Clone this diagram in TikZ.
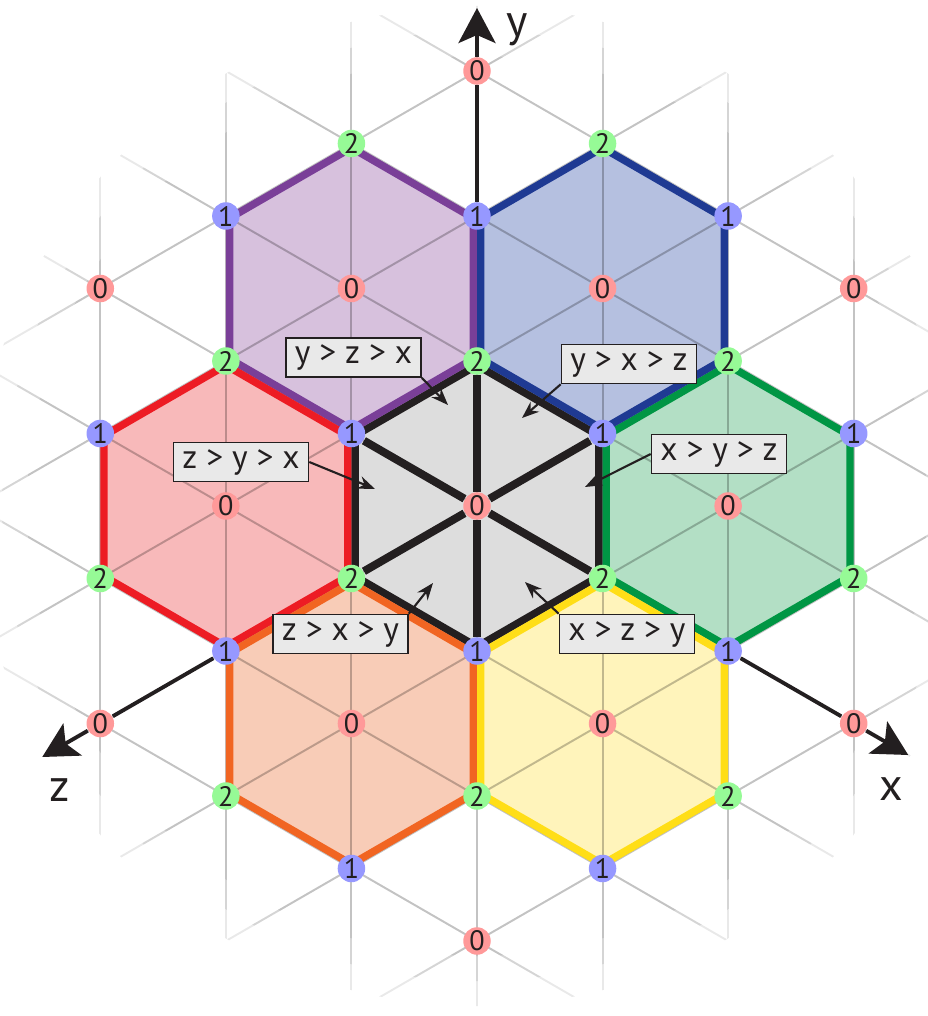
\documentclass[tikz,border=0pt]{standalone}
\usepackage{fontspec}
\setmainfont{PT Sans}
\usetikzlibrary{arrows.meta}

\definecolor{inkcol}{RGB}{35,31,32}
\definecolor{lab0}{RGB}{255,153,153}
\definecolor{lab1}{RGB}{150,152,255}
\definecolor{lab2}{RGB}{150,250,150}
\definecolor{hgray}{RGB}{221,221,221}
\definecolor{hgrayline}{RGB}{35,31,32}
\definecolor{hgreen}{RGB}{179,223,197}
\definecolor{hgreenline}{RGB}{0,150,68}
\definecolor{hblue}{RGB}{181,192,224}
\definecolor{hblueline}{RGB}{31,58,147}
\definecolor{hpurple}{RGB}{215,193,221}
\definecolor{hpurpleline}{RGB}{122,63,152}
\definecolor{hred}{RGB}{248,185,186}
\definecolor{hredline}{RGB}{237,28,36}
\definecolor{horange}{RGB}{248,204,183}
\definecolor{horangeline}{RGB}{241,101,34}
\definecolor{hyellow}{RGB}{255,244,187}
\definecolor{hyellowline}{RGB}{255,222,23}
\definecolor{boxfill}{RGB}{233,233,233}

\def\R{1.45}
\def\Ri{1.407}
\def\h{1.2557}
\def\D{2.5114}

\tikzset{
  lattice/.style={line width=0.55pt, black, opacity=0.085},
  pt/.style={circle, minimum size=2.75mm, inner sep=0pt, text=inkcol, font=\fontsize{8}{8}\selectfont},
  ordbox/.style={draw=inkcol, fill=boxfill, line width=0.45pt, minimum width=13.5mm, minimum height=3.9mm, inner sep=1pt, text=inkcol, font=\fontsize{9.5}{10}\selectfont},
  ptr/.style={-{Stealth[length=1.7mm,width=1.3mm]}, line width=0.6pt, inkcol},
  axis/.style={line width=1.1pt, inkcol},
  axlab/.style={text=inkcol, font=\fontsize{13}{15}\selectfont},
  spoke/.style={line width=0.08cm, inkcol}
}

\begin{document}
\begin{tikzpicture}
\useasboundingbox (-4.77,-5.10) rectangle (4.51,5.06);

\foreach \ang/\k/\name in {0/0/gray, 0/1/green, 60/1/blue, 120/1/purple, 180/1/red, 240/1/orange, 300/1/yellow}{
  \begin{scope}[shift={(\ang:\k*\D)}]
    \fill[h\name] (30:\R) -- (90:\R) -- (150:\R) -- (210:\R) -- (270:\R) -- (330:\R) -- cycle;
  \end{scope}
}

\foreach \r in {4.5,4.75,5.0}{
  \begin{scope}
    \clip (0,0) circle (\r);
    \foreach \rot in {0,60,120}
      \foreach \k in {-4,...,4}
        \draw[lattice, rotate=\rot] ({\k*\h},-5.5) -- ({\k*\h},5.5);
  \end{scope}
}

\foreach \ang/\k/\name in {0/0/gray, 0/1/green, 60/1/blue, 120/1/purple, 180/1/red, 240/1/orange, 300/1/yellow}{
  \begin{scope}[shift={(\ang:\k*\D)}]
    \draw[h\name line, line width=0.074cm] (30:\Ri) -- (90:\Ri) -- (150:\Ri) -- (210:\Ri) -- (270:\Ri) -- (330:\Ri) -- cycle;
  \end{scope}
}

\foreach \i in {-3,...,3}{
  \foreach \j in {-3,...,3}{
    \pgfmathtruncatemacro\dd{\i*\i+\i*\j+\j*\j}
    \pgfmathtruncatemacro\lab{mod(\i-\j+9,3)}
    \pgfmathtruncatemacro\ii{\i+3}
    \pgfmathtruncatemacro\jj{\j+3}
    \ifnum\dd<10
      \node[pt, fill=lab\lab] (p\ii\jj) at ({\i*\h},{(\i/2+\j)*\R}) {\lab};
    \fi
  }
}

\draw[spoke] (p33) -- (p34);
\draw[spoke] (p33) -- (p43);
\draw[spoke] (p33) -- (p42);
\draw[spoke] (p33) -- (p32);
\draw[spoke] (p33) -- (p23);
\draw[spoke] (p33) -- (p24);

\coordinate (ytip) at (90:4.98);
\coordinate (ztip) at (210:5.02);
\coordinate (xtip) at (330:4.98);
\draw[axis] (p35) -- (p36);
\draw[axis, -{Stealth[length=3.5mm,width=3.7mm,inset=0.8mm]}] (p36) -- (ytip);
\draw[axis] (p13) -- (p03);
\draw[axis, -{Stealth[length=3.5mm,width=3.7mm,inset=0.8mm]}] (p03) -- (ztip);
\draw[axis] (p51) -- (p60);
\draw[axis, -{Stealth[length=3.5mm,width=3.7mm,inset=0.8mm]}] (p60) -- (xtip);

\node[axlab] (ylab) at (0.40,4.76) {y};
\node[axlab] (zlab) at (-4.17,-2.84) {z};
\node[axlab] (xlab) at (4.14,-2.83) {x};

\node[ordbox] (yzx) at (-1.235,1.485) {y > z > x};
\node[ordbox] (yxz) at (1.52,1.42) {y > x > z};
\node[ordbox] (zyx) at (-2.36,0.44) {z > y > x};
\node[ordbox] (xyz) at (2.42,0.52) {x > y > z};
\node[ordbox] (zxy) at (-1.365,-1.28) {z > x > y};
\node[ordbox] (xzy) at (1.50,-1.28) {x > z > y};

\coordinate (t1) at (-0.29,1.01);
\coordinate (t2) at (0.45,0.88);
\coordinate (t3) at (-1.02,0.17);
\coordinate (t4) at (1.08,0.19);
\coordinate (t5) at (-0.44,-0.77);
\coordinate (t6) at (0.48,-0.76);
\draw[ptr] (yzx.south east) -- (t1);
\draw[ptr] (yxz.south west) -- (t2);
\draw[ptr] (zyx.east) -- (t3);
\draw[ptr] (xyz.west) -- (t4);
\draw[ptr] (zxy.north east) -- (t5);
\draw[ptr] (xzy.north west) -- (t6);
\end{tikzpicture}
\end{document}
